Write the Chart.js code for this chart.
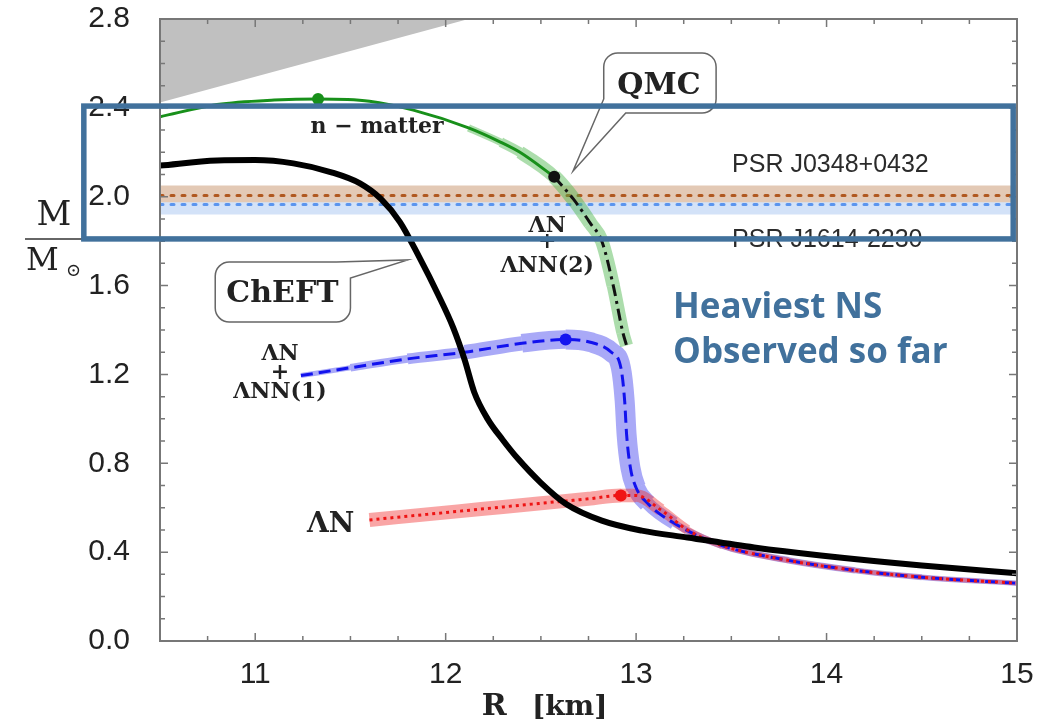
<!DOCTYPE html>
<html>
<head>
    <title>Neutron star mass-radius</title>
    <script src="https://cdn.jsdelivr.net/npm/chart.js@4"></script>
    <style>
        body { margin: 0; background: #fff; }
    </style>
</head>
<body>
<canvas id="mr" width="1043" height="725"></canvas>
<script>
    // tick labels
    var xTicks = [11, 12, 13, 14, 15];
    var yTicks = [0.0, 0.4, 0.8, 1.2, 1.6, 2.0, 2.4, 2.8];

    // ChEFT (black)
    var chiR = [10.5, 10.8, 11.0, 11.2, 11.4, 11.55, 11.66, 11.76, 11.86, 11.96, 12.04, 12.1, 12.15, 12.22, 12.3, 12.38, 12.5, 12.63, 12.82, 13.03, 13.27, 13.62, 13.97, 14.5, 15.0];
    var chiM = [2.14, 2.163, 2.165, 2.15, 2.11, 2.06, 1.99, 1.886, 1.73, 1.56, 1.41, 1.265, 1.12, 1.0, 0.905, 0.82, 0.712, 0.618, 0.542, 0.497, 0.466, 0.421, 0.385, 0.34, 0.305];

    // QMC n-matter (green) and LambdaN + LambdaNN(2) (dash-dot)
    var nmatR = [10.5, 10.8, 11.1, 11.33, 11.6, 11.83, 12.12, 12.29, 12.39, 12.57];
    var nmatM = [2.36, 2.415, 2.435, 2.44, 2.43, 2.39, 2.31, 2.245, 2.20, 2.09];
    var lnn2R = [12.57, 12.67, 12.76, 12.82, 12.88, 12.93, 12.95];
    var lnn2M = [2.09, 1.99, 1.88, 1.80, 1.60, 1.39, 1.33];

    // LambdaN + LambdaNN(1) (blue)
    var lnn1R = [11.24, 11.5, 11.8, 12.1, 12.4, 12.63, 12.76, 12.87, 12.92, 12.94, 12.95, 12.97, 13.0, 13.06, 13.2, 13.45, 13.8, 14.15, 14.5, 15.0];
    var lnn1M = [1.195, 1.23, 1.27, 1.30, 1.34, 1.357, 1.345, 1.30, 1.23, 1.08, 0.93, 0.78, 0.69, 0.62, 0.53, 0.43, 0.363, 0.318, 0.287, 0.26];

    // LambdaN (red)
    var lnR = [11.6, 11.9, 12.2, 12.5, 12.75, 12.92, 13.0, 13.13, 13.27, 13.45, 13.8, 14.15, 14.5, 15.0];
    var lnM = [0.545, 0.57, 0.595, 0.62, 0.64, 0.655, 0.655, 0.59, 0.50, 0.43, 0.363, 0.318, 0.287, 0.26];

    // maximum mass dots
    var dotR = [11.33, 12.57, 12.63, 12.92];
    var dotM = [2.44, 2.09, 1.357, 0.655];

    // causality region (grey)
    var causR = [10.5, 12.12];
    var causM = [2.424, 2.8];

    // pulsar masses: low, centre, high
    var psrR = [10.5, 15];
    var j0348 = [1.975, 2.005, 2.05];
    var j1614 = [1.92, 1.965, 2.01];

    function pts(xs, ys) {
        return xs.map(function (x, i) { return { x: x, y: ys[i] }; });
    }
    function flat(v) {
        return psrR.map(function (x) { return { x: x, y: v }; });
    }
    function widthAt(stops, x) {
        if (x <= stops[0][0]) return stops[0][1];
        for (var i = 1; i < stops.length; i++) {
            if (x <= stops[i][0]) {
                var t = (x - stops[i - 1][0]) / (stops[i][0] - stops[i - 1][0]);
                return stops[i - 1][1] + t * (stops[i][1] - stops[i - 1][1]);
            }
        }
        return stops[stops.length - 1][1];
    }
    function bandWidth(stops) {
        return function (c) { return widthAt(stops, (c.p0.parsed.x + c.p1.parsed.x) / 2); };
    }

    var greenBand = pts(nmatR, nmatM).filter(function (p) { return p.x >= 12.0; })
        .concat(pts(lnn2R, lnn2M).slice(1));

    var serif = '"DejaVu Serif", serif';

    // frame with inward ticks on all four sides
    var framePlugin = {
        id: 'frame',
        afterDatasetsDraw: function (chart) {
            var ctx = chart.ctx, a = chart.chartArea, xs = chart.scales.x, ys = chart.scales.y;
            ctx.save();
            ctx.strokeStyle = '#777';
            ctx.lineWidth = 1.5;
            ctx.beginPath();
            for (var i = 0; i <= 18; i++) {
                var xv = xs.min + i * 0.25;
                var px = xs.getPixelForValue(xv);
                var len = Math.abs(xv - Math.round(xv)) < 1e-6 ? 8 : 5;
                ctx.moveTo(px, a.bottom); ctx.lineTo(px, a.bottom - len);
                ctx.moveTo(px, a.top); ctx.lineTo(px, a.top + len);
            }
            for (var j = 0; j <= 28; j++) {
                var yv = j * 0.1;
                var py = ys.getPixelForValue(yv);
                var ylen = j % 4 === 0 ? 8 : 5;
                ctx.moveTo(a.left, py); ctx.lineTo(a.left + ylen, py);
                ctx.moveTo(a.right, py); ctx.lineTo(a.right - ylen, py);
            }
            ctx.stroke();
            ctx.lineWidth = 2;
            ctx.strokeRect(a.left, a.top, a.right - a.left, a.bottom - a.top);
            ctx.restore();
        }
    };

    function bubble(ctx, l, t, R, b, r, tail) {
        ctx.beginPath();
        ctx.moveTo(l + r, t);
        if (tail.side === 'topright') {
            ctx.lineTo(R - 14, t);
            ctx.lineTo(tail.x, tail.y);
            ctx.lineTo(R, t + 16);
            ctx.lineTo(R, b - r); ctx.arcTo(R, b, R - r, b, r);
            ctx.lineTo(l + r, b); ctx.arcTo(l, b, l, b - r, r);
        } else {
            ctx.lineTo(R - r, t); ctx.arcTo(R, t, R, t + r, r);
            ctx.lineTo(R, b - r); ctx.arcTo(R, b, R - r, b, r);
            ctx.lineTo(l + 22, b);
            ctx.lineTo(tail.x, tail.y);
            ctx.lineTo(l, b - 14);
        }
        ctx.lineTo(l, t + r); ctx.arcTo(l, t, l + r, t, r);
        ctx.closePath();
        ctx.fillStyle = '#fff';
        ctx.fill();
        ctx.strokeStyle = '#666';
        ctx.lineWidth = 1.5;
        ctx.stroke();
    }

    var notesPlugin = {
        id: 'notes',
        afterDraw: function (chart) {
            var ctx = chart.ctx, xs = chart.scales.x, ys = chart.scales.y, a = chart.chartArea;
            function X(v) { return xs.getPixelForValue(v); }
            function Y(v) { return ys.getPixelForValue(v); }
            function txt(s, x, y, font, align, base, color) {
                ctx.font = font;
                ctx.textAlign = align || 'center';
                ctx.textBaseline = base || 'alphabetic';
                ctx.fillStyle = color || '#222';
                ctx.fillText(s, x, y);
            }
            ctx.save();

            // callouts
            bubble(ctx, X(10.79), Y(1.706), X(11.50), Y(1.436), 14, { side: 'topright', x: X(11.80), y: Y(1.715) });
            txt('ChEFT', X(11.143), Y(1.526), 'bold 30px ' + serif);
            bubble(ctx, X(12.83), Y(2.647), X(13.42), Y(2.377), 14, { side: 'bottomleft', x: X(12.669), y: Y(2.116) });
            txt('QMC', X(13.12), Y(2.462), 'bold 30px ' + serif);

            // curve labels
            txt('n \u2212 matter', X(11.64), Y(2.287), 'bold 22px ' + serif);
            txt('\u039BN', X(12.533), Y(1.841), 'bold 22px ' + serif);
            txt('+', X(12.533), Y(1.796), 'bold 22px ' + serif, 'center', 'middle');
            txt('\u039BNN(2)', X(12.533), Y(1.661), 'bold 22px ' + serif);
            txt('\u039BN', X(11.13), Y(1.265), 'bold 22px ' + serif);
            txt('+', X(11.13), Y(1.206), 'bold 22px ' + serif, 'center', 'middle');
            txt('\u039BNN(1)', X(11.13), Y(1.094), 'bold 22px ' + serif);
            txt('\u039BN', X(11.272), Y(0.491), 'bold 28px ' + serif, 'left');

            // pulsars
            txt('PSR J0348+0432', X(13.504), Y(2.111), '25px "Liberation Sans", Arial, sans-serif', 'left', 'alphabetic', '#2b2b2b');
            txt('PSR J1614-2230', X(13.504), Y(1.774), '25px "Liberation Sans", Arial, sans-serif', 'left', 'alphabetic', '#2b2b2b');

            // axis titles
            txt('M', 54, Y(1.873), '34px ' + serif);
            ctx.strokeStyle = '#333';
            ctx.lineWidth = 1.5;
            ctx.beginPath(); ctx.moveTo(25, Y(1.81)); ctx.lineTo(83, Y(1.81)); ctx.stroke();
            txt('M', 26, Y(1.670), '32px ' + serif, 'left');
            txt('\u2299', 66, Y(1.645), '18px ' + serif, 'left');
            txt('R', X(12.19), a.bottom + 74, 'bold 30px ' + serif, 'left');
            txt('[km]', X(12.453), a.bottom + 74, 'bold 28px ' + serif, 'left');

            // highlight box
            ctx.strokeStyle = '#41719c';
            ctx.lineWidth = 5.5;
            ctx.strokeRect(X(10.10), Y(2.408), X(14.98) - X(10.10), Y(1.810) - Y(2.408));
            txt('Heaviest NS', X(13.194), Y(1.454), 'bold 35px "Open Sans", sans-serif', 'left', 'alphabetic', '#41719c');
            txt('Observed so far', X(13.194), Y(1.251), 'bold 35px "Open Sans", sans-serif', 'left', 'alphabetic', '#41719c');
            ctx.restore();
        }
    };

    var ctx = document.getElementById('mr').getContext('2d');
    var chart = new Chart(ctx, {
        type: 'line',
        data: {
            datasets: [
                // grey causality wedge
                { data: pts(causR, causM), fill: 'end', backgroundColor: '#c0c0c0', borderWidth: 0, pointRadius: 0, order: 20 },
                // J1614 band
                { data: flat(j1614[0]), borderWidth: 0, pointRadius: 0, order: 19 },
                { data: flat(j1614[2]), fill: '-1', backgroundColor: '#d3e2f8', borderWidth: 0, pointRadius: 0, order: 19 },
                // J0348 band
                { data: flat(j0348[0]), borderWidth: 0, pointRadius: 0, order: 18 },
                { data: flat(j0348[2]), fill: '-1', backgroundColor: '#e3c9b5', borderWidth: 0, pointRadius: 0, order: 18 },
                { data: flat(j1614[1]), borderColor: '#5b95ee', borderWidth: 3, borderDash: [3, 8], borderCapStyle: 'round', pointRadius: 0, order: 17 },
                { data: flat(j0348[1]), borderColor: '#b0581f', borderWidth: 3, borderDash: [3, 8], borderCapStyle: 'round', pointRadius: 0, order: 17 },
                // uncertainty bands
                { data: pts(lnn1R, lnn1M), borderColor: 'rgba(40,40,235,0.40)', cubicInterpolationMode: 'monotone', pointRadius: 0, order: 12,
                  segment: { borderWidth: bandWidth([[11.24, 4], [11.8, 9], [12.3, 15], [12.6, 20], [13.0, 20], [13.1, 14], [13.3, 7], [15, 5]]) } },
                { data: greenBand, borderColor: 'rgba(70,180,70,0.45)', cubicInterpolationMode: 'monotone', pointRadius: 0, order: 11,
                  segment: { borderWidth: bandWidth([[12.0, 4], [12.3, 9], [12.57, 15], [12.95, 13]]) } },
                { data: pts(lnR, lnM), borderColor: 'rgba(240,40,40,0.42)', cubicInterpolationMode: 'monotone', pointRadius: 0, order: 10,
                  segment: { borderWidth: bandWidth([[11.6, 14], [12.92, 14], [13.1, 12], [13.4, 6], [15, 4]]) } },
                // central lines
                { data: pts(nmatR, nmatM), borderColor: '#18901a', borderWidth: 3, cubicInterpolationMode: 'monotone', pointRadius: 0, order: 6 },
                { data: pts(lnn2R, lnn2M), borderColor: '#111', borderWidth: 3, borderDash: [12, 5, 3, 5], cubicInterpolationMode: 'monotone', pointRadius: 0, order: 6 },
                { data: pts(lnn1R, lnn1M), borderColor: '#1212ee', borderWidth: 3, borderDash: [12, 6], cubicInterpolationMode: 'monotone', pointRadius: 0, order: 6 },
                { data: pts(lnR, lnM), borderColor: '#ee1414', borderWidth: 3, borderDash: [3, 4], cubicInterpolationMode: 'monotone', pointRadius: 0, order: 5 },
                // ChEFT
                { data: pts(chiR, chiM), borderColor: '#000', borderWidth: 6, cubicInterpolationMode: 'monotone', pointRadius: 0, order: 3 },
                // maximum mass points
                { data: pts(dotR, dotM), showLine: false, pointRadius: 6, borderWidth: 0, order: 1,
                  pointBackgroundColor: ['#18901a', '#111', '#1515f0', '#f01515'] }
            ]
        },
        options: {
            responsive: false,
            animation: false,
            events: [],
            layout: { padding: { top: 19, right: 26, left: 0, bottom: 0 } },
            plugins: { legend: { display: false }, tooltip: { enabled: false } },
            scales: {
                x: {
                    type: 'linear', min: 10.5, max: 15,
                    grid: { display: false }, border: { display: false },
                    afterBuildTicks: function (s) { s.ticks = xTicks.map(function (v) { return { value: v }; }); },
                    afterFit: function (s) { s.height = 84; s.paddingLeft = 0; s.paddingRight = 0; },
                    ticks: { autoSkip: false, maxRotation: 0, padding: 8, color: '#222',
                             font: { family: '"Liberation Sans", Arial, sans-serif', size: 30 },
                             callback: function (v) { return String(v); } }
                },
                y: {
                    type: 'linear', min: 0, max: 2.8,
                    grid: { display: false }, border: { display: false },
                    afterBuildTicks: function (s) { s.ticks = yTicks.map(function (v) { return { value: v }; }); },
                    afterFit: function (s) { s.width = 160; s.paddingTop = 0; s.paddingBottom = 0; },
                    ticks: { autoSkip: false, padding: 22, color: '#222',
                             font: { family: '"Liberation Sans", Arial, sans-serif', size: 30 },
                             callback: function (v) { return v.toFixed(1); } }
                }
            }
        },
        plugins: [framePlugin, notesPlugin]
    });
</script>
</body>
</html>
